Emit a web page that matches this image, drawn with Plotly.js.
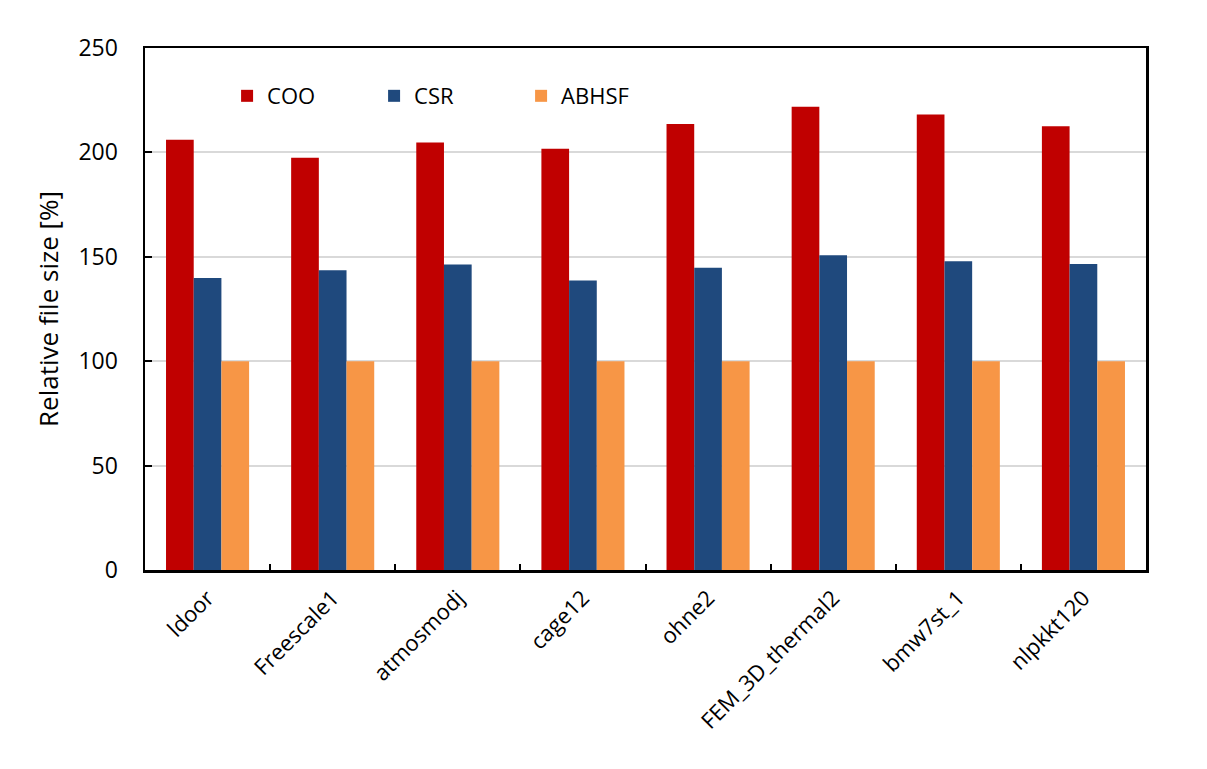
<!DOCTYPE html>
<html>
<head>
<meta charset="utf-8">
<script src="https://cdn.plot.ly/plotly-3.0.1.min.js"></script>
<style>html,body{margin:0;padding:0;background:#fff}#chart{width:1207px;height:769px}</style>
</head>
<body>
<div id="chart"></div>
<script>
const categories = ["ldoor", "Freescale1", "atmosmodj", "cage12", "ohne2", "FEM_3D_thermal2", "bmw7st_1", "nlpkkt120"];
const cooValues = [206.1, 197.4, 204.8, 201.7, 213.6, 221.9, 218.1, 212.5];
const csrValues = [139.9, 143.6, 146.3, 138.6, 144.7, 150.8, 147.9, 146.6];
const abhsfValues = [100, 100, 100, 100, 100, 100, 100, 100];
const yTicks = [0, 50, 100, 150, 200, 250];

const font = "Open Sans, Noto Sans, sans-serif";
const traces = [
  {type: "bar", name: "COO", x: categories, y: cooValues, marker: {color: "#C00000"}},
  {type: "bar", name: "CSR", x: categories, y: csrValues, marker: {color: "#1F497D"}},
  {type: "bar", name: "ABHSF", x: categories, y: abhsfValues, marker: {color: "#F79646"}}
];
const layout = {
  width: 1207, height: 769,
  margin: {l: 145, r: 61, t: 48, b: 199},
  paper_bgcolor: "#fff", plot_bgcolor: "#fff",
  barmode: "group", bargap: 0.336, bargroupgap: 0,
  font: {family: font, size: 22, color: "#000"},
  showlegend: true,
  legend: {orientation: "h", x: 0.082, xanchor: "left", y: 0.908, yanchor: "middle",
           font: {family: font, size: 22, color: "#000"}, entrywidth: 102, bgcolor: "rgba(0,0,0,0)",
           itemwidth: 30},
  xaxis: {type: "category", showline: true, linecolor: "#000", linewidth: 2.5, mirror: true,
          ticks: "inside", tickson: "boundaries", ticklen: 6, tickwidth: 2, tickcolor: "#000",
          tickangle: -45, tickfont: {family: font, size: 22, color: "#000"}, showgrid: false,
          ticklabelstandoff: 4},
  yaxis: {range: [0, 250], tickvals: yTicks, ticktext: yTicks.map(String), showline: true, linecolor: "#000",
          linewidth: 2.5, mirror: true, ticks: "inside", ticklen: 7, tickwidth: 2, tickcolor: "#000",
          showgrid: true, gridcolor: "#d9d9d9", gridwidth: 2, zeroline: false,
          tickfont: {family: font, size: 23, color: "#000"}, ticklabelstandoff: 20,
          title: {text: "Relative file size [%]", font: {family: font, size: 26, color: "#000"}, standoff: 13}}
};
Plotly.newPlot("chart", traces, layout, {displayModeBar: false, staticPlot: true});
</script>
</body>
</html>
